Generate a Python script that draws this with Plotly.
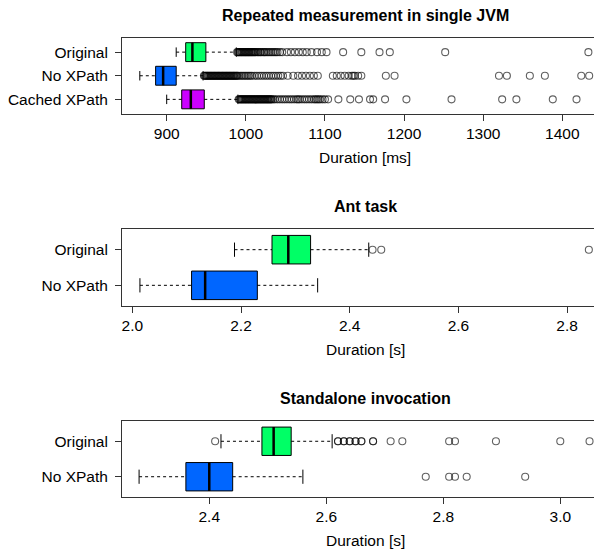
import plotly.graph_objects as go

FONT = "Liberation Sans, Arial, Helvetica, sans-serif"
COLORS = ["#00FF66", "#0066FF", "#CC00FF"]

# ---------------- Panel 1: Repeated measurement in single JVM (ms) ----------------
p1_title = "Repeated measurement in single JVM"
p1_xlabel = "Duration [ms]"
p1_groups = ["Original", "No XPath", "Cached XPath"]
p1_lower = [912, 866, 900]
p1_q1 = [924, 886, 919]
p1_median = [932.5, 895.5, 930.5]
p1_q3 = [949.5, 912, 947.5]
p1_upper = [988, 946, 990]
p1_out_original = [989, 990, 991, 992, 993, 994, 995, 996, 997, 998, 999, 1000, 1001, 1002,
                   1003, 1004, 1005, 1006, 1007, 1008, 1009, 1010, 1011, 1012, 1013, 1015,
                   1016, 1018, 1019, 1021, 1023, 1024, 1026, 1028, 1030, 1032, 1034, 1036,
                   1038, 1040, 1043, 1046, 1052, 1057, 1062, 1067, 1072, 1077, 1083, 1090,
                   1096, 1102, 1123, 1146, 1169, 1182, 1252, 1433]
p1_out_noxpath = [947, 948, 949, 950, 951, 952, 953, 954, 955, 956, 957, 958, 959, 960, 961,
                  962, 963, 964, 965, 966, 967, 968, 969, 970, 971, 972, 973, 974, 975, 976,
                  977, 978, 979, 980, 981, 982, 983, 984, 985, 986, 987, 988, 989, 990, 992,
                  994, 996, 998, 1000, 1002, 1004, 1006, 1008, 1011, 1014, 1017, 1020, 1023,
                  1026, 1029, 1032, 1035, 1038, 1041, 1044, 1047, 1053, 1060, 1066, 1071,
                  1076, 1081, 1086, 1091, 1110, 1115, 1120, 1125, 1130, 1134, 1136, 1138,
                  1142, 1146, 1177, 1188, 1320, 1330, 1359, 1378, 1424, 1434]
p1_out_cached = [991, 992, 993, 994, 995, 996, 997, 998, 999, 1000, 1001, 1002, 1003, 1004,
                 1005, 1006, 1007, 1008, 1009, 1010, 1011, 1012, 1013, 1014, 1015, 1016, 1017,
                 1018, 1019, 1020, 1021, 1022, 1023, 1024, 1025, 1026, 1027, 1028, 1029, 1030,
                 1031, 1032, 1033, 1035, 1037, 1040, 1043, 1046, 1049, 1052, 1055, 1058, 1061,
                 1064, 1066, 1068, 1071, 1074, 1077, 1080, 1083, 1086, 1088, 1090, 1092, 1094,
                 1097, 1100, 1104, 1117, 1132, 1143, 1157, 1161, 1176, 1203, 1260, 1324, 1342,
                 1388, 1418]
p1_ticks = [900, 1000, 1100, 1200, 1300, 1400]
p1_ticklabels = ["900", "1000", "1100", "1200", "1300", "1400"]

# ---------------- Panel 2: Ant task (s) ----------------
p2_title = "Ant task"
p2_xlabel = "Duration [s]"
p2_groups = ["Original", "No XPath"]
p2_lower = [2.188, 2.014]
p2_q1 = [2.257, 2.109]
p2_median = [2.287, 2.134]
p2_q3 = [2.328, 2.230]
p2_upper = [2.435, 2.341]
p2_out_original = [2.442, 2.458, 2.840]
p2_out_noxpath = []
p2_ticks = [2.0, 2.2, 2.4, 2.6, 2.8]
p2_ticklabels = ["2.0", "2.2", "2.4", "2.6", "2.8"]

# ---------------- Panel 3: Standalone invocation (s) ----------------
p3_title = "Standalone invocation"
p3_xlabel = "Duration [s]"
p3_groups = ["Original", "No XPath"]
p3_lower = [2.42, 2.28]
p3_q1 = [2.49, 2.36]
p3_median = [2.51, 2.40]
p3_q3 = [2.54, 2.44]
p3_upper = [2.61, 2.56]
p3_out_original = [2.41, 2.62, 2.62, 2.63, 2.63, 2.64, 2.64, 2.65, 2.65, 2.66, 2.66,
                   2.68, 2.68, 2.71, 2.73, 2.81, 2.82, 2.89, 3.00, 3.05]
p3_out_noxpath = [2.77, 2.81, 2.82, 2.84, 2.94]
p3_ticks = [2.4, 2.6, 2.8, 3.0]
p3_ticklabels = ["2.4", "2.6", "2.8", "3.0"]

# ---------------- geometry (reference pixel layout; page body adds 8px offset) ----------------
OFF = 8
W, H = 602 - OFF, 552 - OFF
PLOT_LEFT = 122 - OFF
BOXWEX = 0.8
STAPLE = 0.4

panels = [
    dict(title=p1_title, xlabel=p1_xlabel, groups=p1_groups, lower=p1_lower, q1=p1_q1,
         median=p1_median, q3=p1_q3, upper=p1_upper,
         outs=[p1_out_original, p1_out_noxpath, p1_out_cached],
         ticks=p1_ticks, ticklabels=p1_ticklabels,
         xrange=[843.5, 1450.2], top=37.5, bottom=114),
    dict(title=p2_title, xlabel=p2_xlabel, groups=p2_groups, lower=p2_lower, q1=p2_q1,
         median=p2_median, q3=p2_q3, upper=p2_upper,
         outs=[p2_out_original, p2_out_noxpath],
         ticks=p2_ticks, ticklabels=p2_ticklabels,
         xrange=[1.981, 2.8642], top=229, bottom=306),
    dict(title=p3_title, xlabel=p3_xlabel, groups=p3_groups, lower=p3_lower, q1=p3_q1,
         median=p3_median, q3=p3_q3, upper=p3_upper,
         outs=[p3_out_original, p3_out_noxpath],
         ticks=p3_ticks, ticklabels=p3_ticklabels,
         xrange=[2.2508, 3.0713], top=420.7, bottom=497.3),
]


def fy(ref_y):
    """reference pixel y -> paper fraction"""
    return 1 - (ref_y - OFF) / H


fig = go.Figure()
layout = dict(
    width=W, height=H,
    margin=dict(l=0, r=0, t=0, b=0),
    paper_bgcolor="white", plot_bgcolor="white",
    showlegend=False,
    font=dict(family=FONT, size=15.5, color="black"),
    annotations=[],
)

AXC = "#333333"
OUTC = "rgba(0,0,0,0.62)"
for k, p in enumerate(panels):
    sfx = "" if k == 0 else str(k + 1)
    xa, ya = "x" + sfx, "y" + sfx
    n = len(p["groups"])
    pos = [n - i for i in range(n)]
    for i in range(n):
        y0 = pos[i]
        fig.add_trace(go.Box(
            orientation="h", y=[y0], q1=[p["q1"][i]], median=[p["median"][i]],
            q3=[p["q3"][i]], lowerfence=[p["q1"][i]], upperfence=[p["q3"][i]],
            width=BOXWEX, fillcolor=COLORS[i], line=dict(color="black", width=1),
            whiskerwidth=0, boxpoints=False, hoverinfo="skip",
            xaxis=xa, yaxis=ya))
        # whiskers (dashed)
        fig.add_trace(go.Scatter(
            x=[p["lower"][i], p["q1"][i], None, p["q3"][i], p["upper"][i]],
            y=[y0, y0, None, y0, y0], mode="lines",
            line=dict(color="black", width=1, dash="3px,3px"),
            hoverinfo="skip", xaxis=xa, yaxis=ya))
        # staples
        fig.add_trace(go.Scatter(
            x=[p["lower"][i], p["lower"][i], None, p["upper"][i], p["upper"][i]],
            y=[y0 - STAPLE / 2, y0 + STAPLE / 2, None, y0 - STAPLE / 2, y0 + STAPLE / 2],
            mode="lines", line=dict(color="black", width=1),
            hoverinfo="skip", xaxis=xa, yaxis=ya))
        # median
        fig.add_trace(go.Scatter(
            x=[p["median"][i], p["median"][i]],
            y=[y0 - BOXWEX / 2, y0 + BOXWEX / 2], mode="lines",
            line=dict(color="black", width=2.5),
            hoverinfo="skip", xaxis=xa, yaxis=ya))
        # outliers
        outs = p["outs"][i]
        if outs:
            fig.add_trace(go.Scatter(
                x=outs, y=[y0] * len(outs), mode="markers",
                marker=dict(symbol="circle-open", size=7, color=OUTC,
                            line=dict(width=1.1, color=OUTC)),
                hoverinfo="skip", xaxis=xa, yaxis=ya))

    layout["xaxis" + sfx] = dict(
        domain=[PLOT_LEFT / W, 1.0], range=p["xrange"], anchor=ya,
        tickvals=p["ticks"], ticktext=p["ticklabels"],
        showline=True, mirror=True, linecolor=AXC, linewidth=1,
        ticks="outside", ticklen=6, tickcolor=AXC, tickwidth=1,
        showgrid=False, zeroline=False, automargin=False,
        ticklabelstandoff=-1,
        tickfont=dict(family=FONT, size=15.5, color="black"),
    )
    layout["yaxis" + sfx] = dict(
        domain=[fy(p["bottom"]), fy(p["top"])],
        range=[0.5 - 0.04 * n, n + 0.5 + 0.04 * n], anchor=xa,
        tickvals=pos, ticktext=p["groups"],
        showline=True, mirror=False, linecolor=AXC, linewidth=1,
        ticks="outside", ticklen=6, tickcolor=AXC, tickwidth=1,
        showgrid=False, zeroline=False, automargin=False,
        ticklabelstandoff=4,
        tickfont=dict(family=FONT, size=15.5, color="black"),
    )
    xc = (365 - OFF) / W
    layout["annotations"].append(dict(
        text="<b>" + p["title"] + "</b>", x=xc, y=fy(p["top"] - 22),
        xref="paper", yref="paper", xanchor="center", yanchor="middle",
        showarrow=False, font=dict(family=FONT, size=16, color="black")))
    layout["annotations"].append(dict(
        text=p["xlabel"], x=xc, y=fy(p["bottom"] + 43.5),
        xref="paper", yref="paper", xanchor="center", yanchor="middle",
        showarrow=False, font=dict(family=FONT, size=15.5, color="black")))

fig.update_layout(**layout)
fig.write_html("out.html")
